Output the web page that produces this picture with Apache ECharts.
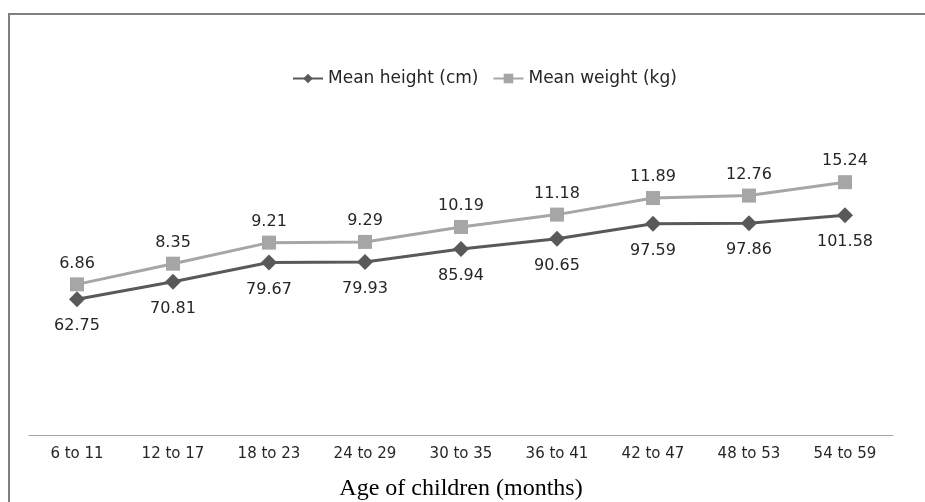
<!DOCTYPE html>
<html>
<head>
<meta charset="utf-8">
<script src="https://cdn.jsdelivr.net/npm/echarts@6/dist/echarts.min.js"></script>
<style>html,body{margin:0;padding:0;background:#fff;}#c{width:925px;height:502px;}</style>
</head>
<body>
<div id="c"></div>
<script>
const categories = ['6 to 11','12 to 17','18 to 23','24 to 29','30 to 35','36 to 41','42 to 47','48 to 53','54 to 59'];
const meanHeight = [62.75, 70.81, 79.67, 79.93, 85.94, 90.65, 97.59, 97.86, 101.58];
const meanWeight = [6.86, 8.35, 9.21, 9.29, 10.19, 11.18, 11.89, 12.76, 15.24];
const seriesNames = ['Mean height (cm)', 'Mean weight (kg)'];
const xTitle = 'Age of children (months)';

const font = '"DejaVu Sans", sans-serif';
const chart = echarts.init(document.getElementById('c'));
chart.setOption({
  animation: false,
  backgroundColor: '#fff',
  legend: {
    top: 65, left: 287,
    itemWidth: 30, itemHeight: 12, itemGap: 14,
    textStyle: {fontFamily: font, fontSize: 17, color: '#262626'},
    data: seriesNames
  },
  grid: {left: 29, right: 32, top: 132, bottom: 67, containLabel: false, outerBoundsMode: 'none'},
  xAxis: {
    type: 'category', data: categories, boundaryGap: true,
    name: xTitle, nameLocation: 'middle', nameGap: 42,
    nameTextStyle: {fontFamily: '"Liberation Serif", serif', fontSize: 24, color: '#000'},
    axisLine: {lineStyle: {color: '#a6a6a6', width: 1}},
    axisTick: {show: false},
    axisLabel: {fontFamily: font, fontSize: 15, color: '#262626', margin: 12}
  },
  yAxis: {type: 'value', min: 0, max: 140, show: false, splitLine: {show: false}},
  series: [
    {
      name: seriesNames[0], type: 'line', stack: 'total', data: meanHeight,
      symbol: 'diamond', symbolSize: 16,
      lineStyle: {color: '#595959', width: 3},
      itemStyle: {color: '#595959'},
      label: {show: true, position: 'bottom', distance: 11, fontFamily: font, fontSize: 16, color: '#262626'}
    },
    {
      name: seriesNames[1], type: 'line', stack: 'total', data: meanWeight,
      symbol: 'rect', symbolSize: 14,
      lineStyle: {color: '#a6a6a6', width: 3},
      itemStyle: {color: '#a6a6a6'},
      label: {show: true, position: 'top', distance: 6, fontFamily: font, fontSize: 16, color: '#262626'}
    }
  ],
  graphic: [
    {type: 'line', shape: {x1: 9, y1: 14, x2: 925, y2: 14}, style: {stroke: '#808080', lineWidth: 2}},
    {type: 'line', shape: {x1: 9, y1: 13, x2: 9, y2: 502}, style: {stroke: '#808080', lineWidth: 2}}
  ]
});
</script>
</body>
</html>
